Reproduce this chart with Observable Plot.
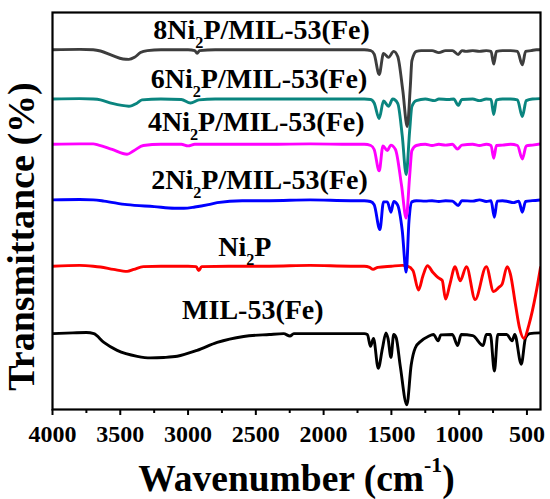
<!DOCTYPE html>
<html>
<head>
<meta charset="utf-8">
<script src="https://cdn.jsdelivr.net/npm/d3@7"></script>
<script src="https://cdn.jsdelivr.net/npm/@observablehq/plot@0.6"></script>
<style>
  html, body { margin: 0; padding: 0; background: #fff; }
  svg text { font-weight: bold; }
</style>
</head>
<body>
<div id="chart"></div>
<script>
// Tick values (wavenumber, cm^-1)
const wnMajor = [4000, 3500, 3000, 2500, 2000, 1500, 1000, 500];
const wnMinor = [3750, 3250, 2750, 2250, 1750, 1250, 750];

// Spectra: [wavenumber, transmittance (a.u., stacked)]
const mil53 = [[4000,19.1],[3850,19.3],[3750,19.4],[3695,19.1],[3621,16.9],[3523,14.9],[3375,13.4],[3277,13.0],[3180,13.1],[3080,13.4],[2933,14.9],[2785,16.9],[2590,18.4],[2400,18.9],[2295,19.1],[2248,18.5],[2220,19.1],[2000,19.1],[1800,19.1],[1700,19.1],[1677,18.9],[1654,15.9],[1632,17.9],[1597,10.4],[1566,15.4],[1540,19.3],[1525,17.9],[1503,13.1],[1483,18.9],[1465,18.1],[1434,10.8],[1386,1.2],[1354,11.2],[1324,15.5],[1279,17.3],[1229,18.4],[1190,18.9],[1155,17.3],[1135,18.8],[1050,18.9],[1011,16.1],[985,18.9],[900,18.6],[823,16.1],[800,18.9],[770,18.9],[740,9.7],[715,18.9],[650,18.9],[609,17.3],[590,18.9],[542,11.4],[510,18.1],[480,19.1],[400,19.3]];

const ni2p = [[4000,36.1],[3800,36.3],[3700,36.1],[3646,35.9],[3550,35.3],[3449,34.8],[3400,35.3],[3330,36.0],[3200,36.1],[3000,36.1],[2940,36.0],[2921,35.0],[2900,36.0],[2700,36.1],[2400,36.1],[2100,36.3],[1800,36.1],[1700,36.1],[1660,35.8],[1635,35.3],[1600,35.8],[1500,36.1],[1420,36.3],[1381,36.1],[1341,35.0],[1300,30.1],[1267,33.7],[1234,36.2],[1193,34.5],[1155,33.2],[1125,32.5],[1100,27.8],[1068,31.6],[1030,36.0],[993,32.4],[946,36.0],[882,27.7],[800,36.0],[746,29.7],[709,30.7],[683,31.6],[646,36.0],[622,34.1],[585,26.5],[555,20.6],[522,17.9],[485,21.4],[435,29.0],[400,35.8]];

const ni2p2 = [[4000,52.8],[3800,52.9],[3700,52.8],[3620,52.5],[3450,51.6],[3250,51.1],[3100,50.7],[3031,50.7],[2950,51.0],[2850,51.6],[2785,52.1],[2600,52.6],[2400,52.6],[2100,52.8],[1800,52.6],[1700,52.6],[1655,52.4],[1627,51.6],[1585,45.3],[1558,52.3],[1530,52.3],[1503,49.7],[1483,52.4],[1455,51.6],[1420,45.1],[1391,34.6],[1370,47.6],[1349,52.3],[1316,52.6],[1250,52.5],[1200,52.6],[1150,52.4],[1100,52.6],[1050,52.5],[1007,51.4],[980,52.6],[900,52.5],[850,52.8],[800,52.4],[765,52.6],[740,48.4],[720,52.5],[680,52.6],[640,52.4],[600,52.1],[560,52.5],[534,49.7],[510,52.4],[460,52.6],[400,52.8]];

const ni2p4 = [[4000,66.8],[3800,66.9],[3700,66.9],[3660,66.6],[3560,65.5],[3450,64.3],[3400,65.2],[3330,66.5],[3200,66.8],[3050,66.8],[3000,66.4],[2950,66.8],[2700,66.8],[2400,66.8],[2100,66.9],[1800,66.8],[1700,66.8],[1652,66.5],[1627,65.5],[1590,60.1],[1562,66.4],[1530,65.2],[1505,66.6],[1470,65.5],[1425,56.4],[1391,48.2],[1365,58.9],[1349,65.2],[1316,66.5],[1250,66.8],[1200,66.5],[1150,66.8],[1100,66.6],[1050,66.8],[1013,65.6],[980,66.6],[900,66.8],[850,66.5],[800,66.8],[765,66.5],[745,63.3],[725,66.5],[680,66.6],[620,66.8],[570,66.5],[534,63.1],[505,66.4],[460,66.6],[400,66.9]];

const ni2p6 = [[4000,78.2],[3800,78.3],[3700,78.2],[3646,78.0],[3560,77.1],[3437,76.4],[3380,77.1],[3340,78.0],[3200,78.2],[3050,78.1],[2982,77.2],[2920,78.0],[2800,78.2],[2500,78.2],[2200,78.2],[2000,78.2],[1800,78.2],[1700,78.2],[1652,78.1],[1627,77.2],[1590,73.3],[1558,77.7],[1521,76.4],[1490,78.2],[1453,77.1],[1420,69.0],[1391,59.2],[1365,70.3],[1349,76.3],[1316,77.8],[1250,78.2],[1180,77.8],[1150,78.2],[1080,78.1],[1040,78.2],[1007,76.6],[980,78.1],[900,78.2],[850,77.8],[800,78.2],[765,78.1],[745,74.3],[725,78.0],[680,78.2],[620,78.2],[570,78.0],[534,73.8],[505,77.8],[460,78.2],[400,78.3]];

const ni2p8 = [[4000,90.6],[3800,90.7],[3700,90.6],[3646,90.3],[3560,89.2],[3480,88.3],[3437,88.2],[3395,88.7],[3351,89.9],[3300,90.4],[3200,90.6],[3000,90.6],[2950,90.4],[2933,89.7],[2915,90.4],[2800,90.6],[2600,90.6],[2400,90.6],[2200,90.6],[2000,90.6],[1800,90.6],[1700,90.6],[1652,90.4],[1627,89.5],[1590,84.4],[1558,89.7],[1521,88.7],[1483,90.2],[1453,88.9],[1416,80.4],[1383,71.3],[1360,81.6],[1349,87.8],[1316,90.2],[1280,90.4],[1200,90.4],[1150,89.9],[1100,90.4],[1050,90.4],[1007,89.4],[980,90.4],[950,90.2],[900,90.4],[850,90.2],[800,90.4],[765,90.2],[745,87.0],[725,90.2],[680,90.4],[620,90.4],[570,90.2],[534,86.8],[510,90.2],[470,90.4],[430,90.6],[400,90.6]];

// Curve labels (text, anchor wavenumber, anchor level)
const labelText = ["8Ni_{2}P/MIL-53(Fe)", "6Ni_{2}P/MIL-53(Fe)", "4Ni_{2}P/MIL-53(Fe)", "2Ni_{2}P/MIL-53(Fe)", "Ni_{2}P", "MIL-53(Fe)"];
const labelWn = [2458, 2477, 2497, 2473, 2581, 2522];
const labelT = [95.5, 83.2, 72.3, 57.8, 41.0, 25.0];

// Series drawing order (bottom first, so later ones overlap)
const seriesData = [mil53, ni2p, ni2p2, ni2p4, ni2p6, ni2p8];
const seriesColor = ["#000000", "#ff0000", "#0000ff", "#ff00ff", "#0a857f", "#3d3d3d"];

const toRows = (arr) => arr.map(([wn, t]) => ({wn, t}));
const labels = labelText.map((text, i) => ({text, wn: labelWn[i], t: labelT[i]}));

const font = "'Liberation Serif', 'Times New Roman', Times, serif";

const plot = Plot.plot({
  width: 550,
  height: 499,
  marginLeft: 52,
  marginRight: 10,
  marginTop: 12,
  marginBottom: 90,
  style: {fontFamily: font, fontWeight: "bold", background: "#fff", color: "#000"},
  x: {domain: [4000, 400]},
  y: {domain: [0, 100], axis: null},
  marks: [
    ...seriesData.map((s, i) => Plot.line(toRows(s), {
      x: "wn", y: "t", stroke: seriesColor[i], strokeWidth: 2.9,
      curve: "monotone-x", clip: true
    })),
    Plot.text(labels, {x: "wn", y: "t", text: "text", fontSize: 28, fontWeight: "bold", fill: "#000"}),
    Plot.axisX({ticks: wnMajor, tickSize: 6, tickPadding: 9, fontSize: 24, fontWeight: "bold",
      strokeWidth: 2, tickFormat: d => String(d), label: null}),
    Plot.axisX({ticks: wnMinor, tickSize: 4, strokeWidth: 2, text: null, label: null}),
    Plot.frame({stroke: "#000", strokeWidth: 2.2}),
    Plot.text(["Wavenumber (cm^{-1})"], {text: d => d, frameAnchor: "bottom", lineAnchor: "middle",
      textAnchor: "middle", dy: 69, fontSize: 37.5, fontWeight: "bold", fill: "#000"}),
    Plot.text(["Transmittance (%)"], {text: d => d, frameAnchor: "left", rotate: -90,
      textAnchor: "middle", lineAnchor: "middle",
      dx: -31, dy: 25.5, fontSize: 38, fontWeight: "bold", fill: "#000"})
  ]
});

document.getElementById("chart").append(plot);

// Convert _{..} and ^{..} markup into real sub/superscript tspans
d3.select(plot).selectAll("text").each(function () {
  const s = this.textContent;
  if (!/[_^]\{/.test(s)) return;
  const fs = parseFloat(getComputedStyle(this).fontSize) || 16;
  const parts = s.split(/([_^])\{([^}]*)\}/);
  const el = d3.select(this);
  el.selectAll("*").remove();
  this.textContent = "";
  let shift = 0;
  for (let i = 0; i < parts.length; i += 3) {
    const plain = parts[i];
    if (plain) {
      const t = el.append("tspan").text(plain);
      if (shift) t.attr("dy", -shift);
      shift = 0;
    }
    if (i + 1 < parts.length) {
      const op = parts[i + 1], content = parts[i + 2];
      const d = op === "_" ? fs * 0.32 : -fs * 0.5;
      el.append("tspan").attr("dy", d - shift).attr("font-size", fs * 0.58).text(content);
      shift = d;
    }
  }
});
</script>
</body>
</html>
